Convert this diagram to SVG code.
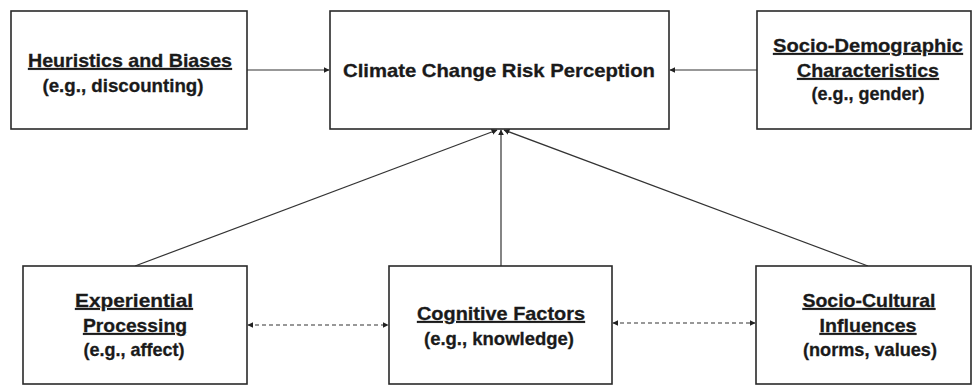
<svg xmlns="http://www.w3.org/2000/svg" width="972" height="385" viewBox="0 0 972 385">
<style>
.box{fill:#fff;stroke:#2a2a2a;stroke-width:1.6}
.t{font-family:"Liberation Sans",Arial,sans-serif;font-weight:bold;font-size:19px;fill:#1a1a1a;stroke:#1a1a1a;stroke-width:0.3;text-anchor:middle}
.u{text-decoration:underline}
.c{stroke:#333;stroke-width:1.2;fill:none}
.d{stroke-dasharray:4 3}
</style>
<defs>
<marker id="ah" viewBox="0 0 10 10" refX="9" refY="5" markerWidth="6" markerHeight="6" orient="auto-start-reverse" markerUnits="userSpaceOnUse">
<path d="M0,0 L10,5 L0,10 z" fill="#222"/>
</marker>
</defs>
<rect width="972" height="385" fill="#fff"/>
<g id="connectors">
<line class="c" x1="247" y1="70" x2="329" y2="70" marker-end="url(#ah)"/>
<line class="c" x1="757" y1="70" x2="670" y2="70" marker-end="url(#ah)"/>
<line class="c" x1="135" y1="266" x2="497" y2="130" marker-end="url(#ah)"/>
<line class="c" x1="501" y1="266" x2="501" y2="130" marker-end="url(#ah)"/>
<line class="c" x1="868" y1="266" x2="504" y2="130" marker-end="url(#ah)"/>
<line class="c d" x1="248" y1="325" x2="388" y2="325" marker-start="url(#ah)" marker-end="url(#ah)"/>
<line class="c d" x1="613" y1="323" x2="755" y2="323" marker-start="url(#ah)" marker-end="url(#ah)"/>
</g>
<g id="heuristics">
<rect class="box" x="11" y="11" width="236" height="118"/>
<text class="t u" x="130" y="67" textLength="204" lengthAdjust="spacingAndGlyphs">Heuristics and Biases</text>
<text class="t" x="123" y="92" textLength="161" lengthAdjust="spacingAndGlyphs">(e.g., discounting)</text>
</g>
<g id="ccrp">
<rect class="box" x="330" y="11" width="339" height="118"/>
<text class="t" x="499" y="77" textLength="312" lengthAdjust="spacingAndGlyphs">Climate Change Risk Perception</text>
</g>
<g id="sociodemographic">
<rect class="box" x="757" y="11" width="214" height="118"/>
<text class="t u" x="868" y="52" textLength="190" lengthAdjust="spacingAndGlyphs">Socio-Demographic</text>
<text class="t u" x="868" y="77" textLength="142" lengthAdjust="spacingAndGlyphs">Characteristics</text>
<text class="t" x="868" y="100" textLength="113" lengthAdjust="spacingAndGlyphs">(e.g., gender)</text>
</g>
<g id="experiential">
<rect class="box" x="23" y="266" width="224" height="118"/>
<text class="t u" x="134" y="307" textLength="118" lengthAdjust="spacingAndGlyphs">Experiential</text>
<text class="t u" x="135" y="332" textLength="104" lengthAdjust="spacingAndGlyphs">Processing</text>
<text class="t" x="134" y="356" textLength="101" lengthAdjust="spacingAndGlyphs">(e.g., affect)</text>
</g>
<g id="cognitive">
<rect class="box" x="389" y="266" width="223" height="118"/>
<text class="t u" x="501" y="320" textLength="168" lengthAdjust="spacingAndGlyphs">Cognitive Factors</text>
<text class="t" x="499" y="345" textLength="150" lengthAdjust="spacingAndGlyphs">(e.g., knowledge)</text>
</g>
<g id="sociocultural">
<rect class="box" x="756" y="266" width="215" height="118"/>
<text class="t u" x="869" y="307" textLength="133" lengthAdjust="spacingAndGlyphs">Socio-Cultural</text>
<text class="t u" x="868" y="332" textLength="97" lengthAdjust="spacingAndGlyphs">Influences</text>
<text class="t" x="870" y="356" textLength="134" lengthAdjust="spacingAndGlyphs">(norms, values)</text>
</g>
</svg>
